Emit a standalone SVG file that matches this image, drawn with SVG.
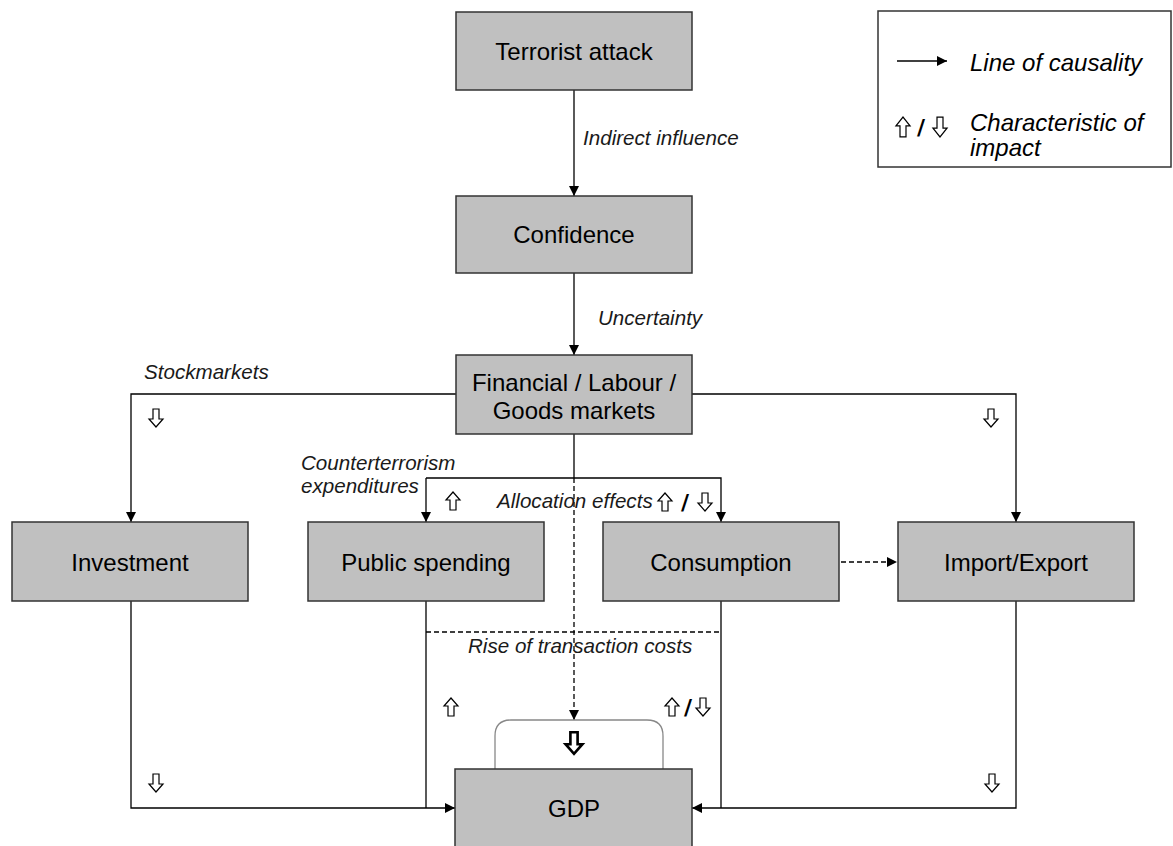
<svg xmlns="http://www.w3.org/2000/svg" xmlns:xlink="http://www.w3.org/1999/xlink" width="1173" height="846" viewBox="0 0 1173 846">
<style>
.box{fill:#c0c0c0;stroke:#333;stroke-width:1.5}
.lbl{font-family:"Liberation Sans",Arial,sans-serif;font-size:24px;fill:#000;text-anchor:middle}
.it{font-family:"Liberation Sans",Arial,sans-serif;font-size:20.6px;font-style:italic;fill:#1a1a1a}
.lg{font-family:"Liberation Sans",Arial,sans-serif;font-size:24px;font-style:italic;fill:#000}
.ln{fill:none;stroke:#000;stroke-width:1.3}
.dash{fill:none;stroke:#000;stroke-width:1.3;stroke-dasharray:5,3}
.sym{fill:#fff;stroke:#000;stroke-width:1.2}
.symb{fill:#fff;stroke:#000;stroke-width:2.2}
.sl{font-family:"DejaVu Sans",sans-serif;font-size:22px;font-weight:bold;fill:#000;text-anchor:middle}
</style>
<defs>
<marker id="ah" viewBox="0 0 10 10" refX="10" refY="5" markerWidth="10" markerHeight="10" markerUnits="userSpaceOnUse" orient="auto">
<path d="M0,0 L10,5 L0,10 Z" fill="#000"/>
</marker>
<path id="up" d="M-3,9 L-3,-1 L-7,-1 L0,-9 L7,-1 L3,-1 L3,9 Z"/>
<path id="dn" d="M-3,-9 L-3,1 L-7,1 L0,9 L7,1 L3,1 L3,-9 Z"/>
</defs>
<rect width="1173" height="846" fill="#fff"/>

<g id="connectors">
<line class="ln" x1="574" y1="90" x2="574" y2="196" marker-end="url(#ah)"/>
<line class="ln" x1="574" y1="273" x2="574" y2="355" marker-end="url(#ah)"/>
<polyline class="ln" points="456,394 131,394 131,522" marker-end="url(#ah)"/>
<polyline class="ln" points="692,394 1016,394 1016,522" marker-end="url(#ah)"/>
<line class="ln" x1="574" y1="434" x2="574" y2="478"/>
<polyline class="ln" points="426,478 721,478 721,522" marker-end="url(#ah)"/>
<line class="ln" x1="426" y1="478" x2="426" y2="522" marker-end="url(#ah)"/>
<line class="dash" x1="574" y1="478" x2="574" y2="720" marker-end="url(#ah)"/>
<line class="dash" x1="841" y1="562" x2="897" y2="562" marker-end="url(#ah)"/>
<line class="dash" x1="426" y1="632" x2="721" y2="632"/>
<polyline class="ln" points="131,601 131,808 455,808" marker-end="url(#ah)"/>
<polyline class="ln" points="426,601 426,808"/>
<polyline class="ln" points="1016,601 1016,808 692,808" marker-end="url(#ah)"/>
<polyline class="ln" points="721,601 721,808"/>
<path d="M495,769 L495,736 Q495,720 511,720 L647,720 Q663,720 663,736 L663,769" fill="none" stroke="#888" stroke-width="1.3"/>
</g>

<g id="terrorist-attack">
<rect class="box" x="456" y="12" width="236" height="78"/>
<text class="lbl" x="574" y="60">Terrorist attack</text>
</g>
<g id="confidence">
<rect class="box" x="456" y="196" width="236" height="77"/>
<text class="lbl" x="574" y="243">Confidence</text>
</g>
<g id="markets">
<rect class="box" x="456" y="355" width="236" height="79"/>
<text class="lbl" x="574" y="391">Financial / Labour /</text>
<text class="lbl" x="574" y="419">Goods markets</text>
</g>
<g id="investment">
<rect class="box" x="12" y="522" width="236" height="79"/>
<text class="lbl" x="130" y="571">Investment</text>
</g>
<g id="public-spending">
<rect class="box" x="308" y="522" width="236" height="79"/>
<text class="lbl" x="426" y="571">Public spending</text>
</g>
<g id="consumption">
<rect class="box" x="603" y="522" width="236" height="79"/>
<text class="lbl" x="721" y="571">Consumption</text>
</g>
<g id="import-export">
<rect class="box" x="898" y="522" width="236" height="79"/>
<text class="lbl" x="1016" y="571">Import/Export</text>
</g>
<g id="gdp">
<rect class="box" x="455" y="769" width="237" height="90"/>
<text class="lbl" x="574" y="817">GDP</text>
</g>

<g id="labels">
<text class="it" x="583" y="145">Indirect influence</text>
<text class="it" x="598" y="325">Uncertainty</text>
<text class="it" x="144" y="379">Stockmarkets</text>
<text class="it" x="301" y="470">Counterterrorism</text>
<text class="it" x="301" y="493">expenditures</text>
<text class="it" x="497" y="508">Allocation effects</text>
<text class="it" x="468" y="653">Rise of transaction costs</text>
</g>

<g id="impact-symbols">
<use href="#dn" class="sym" x="156" y="418"/>
<use href="#dn" class="sym" x="991" y="418"/>
<use href="#up" class="sym" x="453" y="501"/>
<use href="#up" class="sym" x="665" y="502"/>
<text class="sl" x="685" y="510">/</text>
<use href="#dn" class="sym" x="705" y="502"/>
<use href="#up" class="sym" x="672" y="707"/>
<text class="sl" x="688" y="715">/</text>
<use href="#dn" class="sym" x="703" y="707"/>
<use href="#up" class="sym" x="451" y="707"/>
<g transform="translate(574,743) scale(1.2)"><use href="#dn" class="symb"/></g>
<use href="#dn" class="sym" x="156" y="783"/>
<use href="#dn" class="sym" x="992" y="783"/>
</g>

<g id="legend">
<rect x="878" y="11" width="293" height="156" fill="#fff" stroke="#333" stroke-width="1.5"/>
<line class="ln" x1="897" y1="61" x2="947" y2="61" marker-end="url(#ah)"/>
<text class="lg" x="970" y="71">Line of causality</text>
<g transform="translate(903,127) scale(1,1.1)"><use href="#up" class="sym"/></g>
<text class="sl" x="921" y="135">/</text>
<g transform="translate(940,127) scale(1,1.1)"><use href="#dn" class="sym"/></g>
<text class="lg" x="970" y="131">Characteristic of</text>
<text class="lg" x="970" y="156">impact</text>
</g>
</svg>
